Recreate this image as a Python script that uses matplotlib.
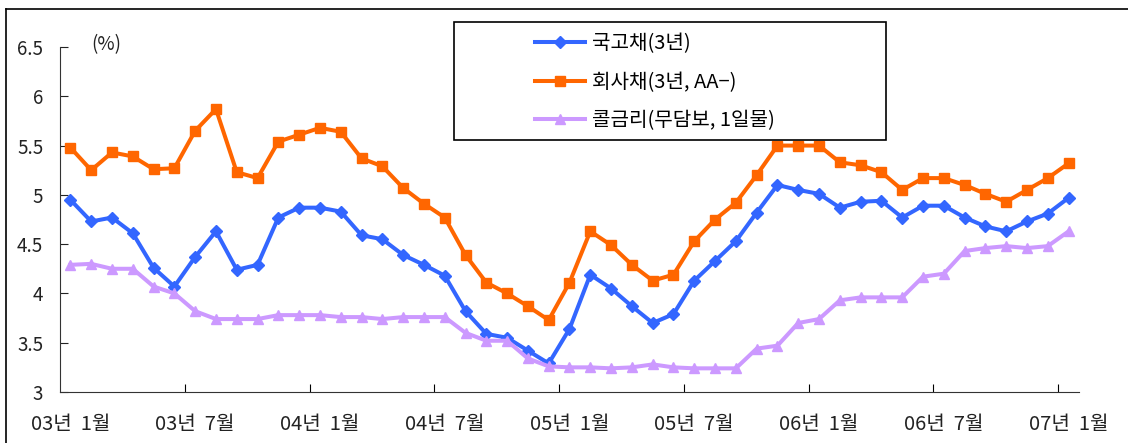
import matplotlib
matplotlib.use('Agg')
import matplotlib.pyplot as plt
from matplotlib.lines import Line2D
from matplotlib.patches import Rectangle

plt.rcParams['font.family'] = ['Noto Sans CJK KR', 'DejaVu Sans']

# monthly values, 03/1 .. 07/1
gov_bond = [4.95, 4.73, 4.77, 4.61, 4.26, 4.07, 4.37, 4.63, 4.24, 4.29,
            4.77, 4.87, 4.87, 4.83, 4.59, 4.55, 4.39, 4.29, 4.18, 3.82,
            3.59, 3.55, 3.42, 3.29, 3.64, 4.19, 4.05, 3.87, 3.70, 3.79,
            4.13, 4.33, 4.53, 4.82, 5.10, 5.05, 5.01, 4.87, 4.93, 4.94,
            4.77, 4.89, 4.89, 4.77, 4.68, 4.63, 4.73, 4.81, 4.97]
corp_bond = [5.48, 5.25, 5.43, 5.39, 5.26, 5.27, 5.65, 5.87, 5.23, 5.17,
             5.54, 5.61, 5.68, 5.64, 5.37, 5.29, 5.07, 4.91, 4.77, 4.39,
             4.11, 4.00, 3.87, 3.73, 4.11, 4.63, 4.49, 4.29, 4.13, 4.19,
             4.53, 4.75, 4.92, 5.20, 5.50, 5.50, 5.50, 5.33, 5.30, 5.23,
             5.05, 5.17, 5.17, 5.10, 5.01, 4.93, 5.05, 5.17, 5.32]
call_rate = [4.29, 4.30, 4.25, 4.25, 4.07, 4.00, 3.82, 3.74, 3.74, 3.74,
             3.78, 3.78, 3.78, 3.76, 3.76, 3.74, 3.76, 3.76, 3.76, 3.60,
             3.52, 3.52, 3.34, 3.26, 3.25, 3.25, 3.24, 3.25, 3.28, 3.25,
             3.24, 3.24, 3.24, 3.44, 3.47, 3.70, 3.74, 3.93, 3.96, 3.96,
             3.96, 4.17, 4.20, 4.43, 4.46, 4.48, 4.46, 4.48, 4.63]

series_names = ['국고채(3년)', '회사채(3년, AA−)', '콜금리(무담보, 1일물)']
x_labels = ['03년  1월', '03년  7월', '04년  1월', '04년  7월', '05년  1월',
            '05년  7월', '06년  1월', '06년  7월', '07년  1월']
y_ticks = [3, 3.5, 4, 4.5, 5, 5.5, 6, 6.5]
y_labels = ['3', '3.5', '4', '4.5', '5', '5.5', '6', '6.5']


def main():
    W, H = 1128, 443
    fig = plt.figure(figsize=(W / 100, H / 100), dpi=100)
    ax = fig.add_axes([60 / W, (H - 392) / H, (1079 - 60) / W, (392 - 47) / H])

    n = len(gov_bond)
    x = list(range(n))
    ax.plot(x, gov_bond, color='#3366FF', lw=2.9, marker='D', ms=6,
            label=series_names[0])
    ax.plot(x, corp_bond, color='#FF6600', lw=2.9, marker='s', ms=7.5,
            label=series_names[1])
    ax.plot(x, call_rate, color='#CC99FF', lw=2.9, marker='^', ms=7.5,
            label=series_names[2])

    ax.set_xlim(-0.5, n - 0.5)
    ax.set_ylim(3, 6.5)
    for s in ['top', 'right']:
        ax.spines[s].set_visible(False)
    ax.spines['left'].set_color('#333333')
    ax.spines['bottom'].set_color('#333333')

    ax.set_yticks(y_ticks)
    ax.set_yticklabels(y_labels, fontsize=13.5)
    ax.tick_params(axis='y', direction='in', length=6, pad=12, colors='#222222')

    # tick marks on category boundaries, labels on category centers
    ax.set_xticks([i - 0.5 for i in range(6, n, 6)])
    ax.set_xticklabels([])
    ax.tick_params(axis='x', which='major', direction='in', length=6)
    ax.set_xticks(list(range(0, n, 6)), minor=True)
    ax.set_xticklabels(x_labels, minor=True, fontsize=14.5)
    ax.tick_params(axis='x', which='minor', length=0, pad=16, colors='#222222')

    fig.text(106 / W, 1 - 45 / H, '(%)', fontsize=13.5, ha='center', va='center',
             color='#222222')

    ax.legend(loc='upper left', bbox_to_anchor=(535 / W, 1 - 33 / H),
              bbox_transform=fig.transFigure, frameon=False, fontsize=14.5,
              handlelength=2.5, handletextpad=0.35, labelspacing=0.88,
              borderpad=0, borderaxespad=0)
    fig.add_artist(Rectangle((454 / W, 1 - 140 / H), (886 - 454) / W, (140 - 22) / H,
                             transform=fig.transFigure, fill=False,
                             edgecolor='black', lw=1.2))

    # outer frame
    fig.add_artist(Line2D([6 / W, 1], [1 - 9 / H, 1 - 9 / H],
                          transform=fig.transFigure, color='black', lw=1.2))
    fig.add_artist(Line2D([6 / W, 6 / W], [0, 1 - 9 / H],
                          transform=fig.transFigure, color='black', lw=1.2))

    fig.savefig('out.png', dpi=100)


if __name__ == '__main__':
    main()
